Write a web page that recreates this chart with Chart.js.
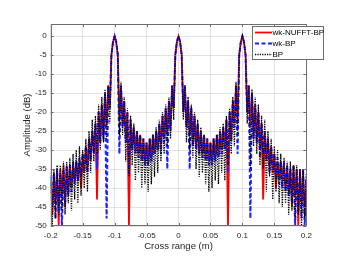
<!DOCTYPE html>
<html>
<head>
<meta charset="utf-8">
<script src="https://cdn.jsdelivr.net/npm/chart.js@4.4.1/dist/chart.umd.min.js"></script>
<style>
  html, body { margin: 0; padding: 0; background: #fff; }
  canvas { display: block; }
</style>
</head>
<body>
<canvas id="chart" width="346" height="259"></canvas>
<script>
// cross range samples (m)
const crossRange = [
  -0.2, -0.1975, -0.195, -0.1925, -0.19, -0.1875, -0.185, -0.1825,
  -0.18, -0.1775, -0.175, -0.1725, -0.17, -0.1675, -0.165, -0.1625,
  -0.16, -0.1575, -0.155, -0.1525, -0.15, -0.1475, -0.145, -0.1425,
  -0.14, -0.1375, -0.135, -0.1325, -0.13, -0.1275, -0.125, -0.1225,
  -0.12, -0.1175, -0.115, -0.1125, -0.11, -0.1075, -0.105, -0.1025,
  -0.1, -0.0975, -0.095, -0.0925, -0.09, -0.0875, -0.085, -0.0825,
  -0.08, -0.0775, -0.075, -0.0725, -0.07, -0.0675, -0.065, -0.0625,
  -0.06, -0.0575, -0.055, -0.0525, -0.05, -0.0475, -0.045, -0.0425,
  -0.04, -0.0375, -0.035, -0.0325, -0.03, -0.0275, -0.025, -0.0225,
  -0.02, -0.0175, -0.015, -0.0125, -0.01, -0.0075, -0.005, -0.0025,
  0,
  0.0025, 0.005, 0.0075, 0.01, 0.0125, 0.015, 0.0175, 0.02,
  0.0225, 0.025, 0.0275, 0.03, 0.0325, 0.035, 0.0375, 0.04,
  0.0425, 0.045, 0.0475, 0.05, 0.0525, 0.055, 0.0575, 0.06,
  0.0625, 0.065, 0.0675, 0.07, 0.0725, 0.075, 0.0775, 0.08,
  0.0825, 0.085, 0.0875, 0.09, 0.0925, 0.095, 0.0975, 0.1,
  0.1025, 0.105, 0.1075, 0.11, 0.1125, 0.115, 0.1175, 0.12,
  0.1225, 0.125, 0.1275, 0.13, 0.1325, 0.135, 0.1375, 0.14,
  0.1425, 0.145, 0.1475, 0.15, 0.1525, 0.155, 0.1575, 0.16,
  0.1625, 0.165, 0.1675, 0.17, 0.1725, 0.175, 0.1775, 0.18,
  0.1825, 0.185, 0.1875, 0.19, 0.1925, 0.195, 0.1975, 0.2
];

// amplitude (dB) per method
const wkNufftBp = [
  -38, -47, -36, -44, -35, -50, -35, -42,
  -34, -45, -35, -41, -34, -40, -34, -38,
  -33, -37, -33, -40, -31, -36, -29, -35,
  -27, -32, -25, -30, -23, -43, -20, -28,
  -18, -26, -15, -24, -13, -19, -5, -1.5,
  0, -1.5, -5, -22, -13, -23, -17, -27,
  -20, -50, -22, -29, -24, -30, -25, -31,
  -26, -32, -27, -33, -28, -33, -27, -32,
  -26, -31, -25, -30, -23, -29, -21, -27,
  -19, -26, -17, -24, -13, -19, -5, -1.5,
  0,
  -1.5, -5, -20, -13, -24, -17, -26, -19,
  -28, -21, -29, -23, -30, -25, -31, -26,
  -32, -27, -33, -28, -33, -27, -32, -26,
  -31, -25, -30, -24, -29, -22, -50, -20,
  -27, -17, -23, -13, -22, -5, -1.5, 0,
  -1.5, -5, -20, -13, -24, -15, -26, -18,
  -28, -20, -30, -23, -43, -25, -32, -27,
  -35, -29, -36, -31, -40, -33, -38, -33,
  -37, -34, -40, -34, -41, -35, -45, -34,
  -42, -35, -50, -35, -44, -36, -47, -38
];

const wkBp = [
  -37, -45, -36, -48, -35, -46, -36, -50,
  -35, -44, -34, -42, -34, -41, -33, -39,
  -33, -38, -32, -37, -31, -35, -29, -36,
  -27, -33, -25, -31, -23, -35, -20, -28,
  -18, -27, -15, -48, -13, -19, -5, -1.5,
  0, -1.5, -5, -31, -13, -24, -17, -28,
  -20, -36, -22, -30, -24, -31, -25, -32,
  -26, -33, -27, -34, -28, -34, -27, -33,
  -26, -31, -25, -30, -23, -31, -21, -28,
  -19, -35, -17, -25, -13, -19, -5, -1.5,
  0,
  -1.5, -5, -20, -13, -24, -17, -35, -19,
  -29, -21, -30, -23, -31, -25, -32, -26,
  -33, -27, -34, -28, -34, -27, -33, -26,
  -32, -25, -31, -24, -30, -22, -36, -20,
  -28, -17, -24, -13, -31, -5, -1.5, 0,
  -1.5, -5, -20, -13, -48, -15, -27, -18,
  -28, -20, -32, -23, -31, -25, -33, -27,
  -36, -29, -35, -31, -38, -32, -39, -33,
  -40, -33, -41, -34, -42, -35, -44, -34,
  -50, -35, -46, -36, -48, -35, -50, -37
];

const bp = [
  -36, -50, -35, -48, -34, -47, -34, -46,
  -33, -47, -33, -44, -32, -46, -31, -43,
  -30, -44, -29, -42, -30, -40, -27, -41,
  -25, -36, -22, -33, -21, -31, -18, -30,
  -16, -28, -14, -27, -13, -23, -5, -1.5,
  0, -1.5, -5, -26, -12, -26, -16, -33,
  -19, -37, -21, -34, -23, -38, -25, -36,
  -26, -40, -27, -39, -28, -41, -27, -39,
  -26, -37, -24, -36, -22, -33, -20, -31,
  -18, -29, -16, -27, -13, -22, -5, -1.5,
  0,
  -1.5, -5, -22, -13, -28, -16, -30, -18,
  -32, -20, -35, -22, -37, -24, -36, -26,
  -39, -27, -41, -28, -40, -27, -38, -26,
  -39, -24, -36, -23, -38, -21, -34, -19,
  -31, -16, -29, -12, -26, -5, -1.5, 0,
  -1.5, -5, -23, -13, -35, -14, -29, -16,
  -31, -18, -34, -21, -35, -22, -41, -25,
  -37, -27, -43, -29, -41, -30, -44, -31,
  -45, -32, -44, -33, -47, -33, -46, -34,
  -48, -34, -47, -35, -50, -35, -48, -36
];

const seriesNames = ['wk-NUFFT-BP', 'wk-BP', 'BP'];
const xTicks = [-0.2, -0.15, -0.1, -0.05, 0, 0.05, 0.1, 0.15, 0.2];
const xTickLabels = ['-0.2', '-0.15', '-0.1', '-0.05', '0', '0.05', '0.1', '0.15', '0.2'];
const yTicks = [-50, -45, -40, -35, -30, -25, -20, -15, -10, -5, 0];

const FONT = "'Liberation Sans', Arial, Helvetica, sans-serif";
const AXIS_COLOR = '#6e6e6e';
const TEXT_COLOR = '#262626';

const toPoints = (vals) => crossRange.map((x, i) => ({ x: x, y: vals[i] }));

const styles = [
  { color: '#ff0000', width: 1.8, dash: [] },
  { color: '#1f1fff', width: 2, dash: [4, 2.5] },
  { color: '#000000', width: 1.3, dash: [1.2, 1.2] },
];

// box around the axes, inward ticks and matlab-style legend
const matlabFrame = {
  id: 'matlabFrame',
  afterDatasetsDraw(chart) {
    const { ctx, chartArea: a, scales } = chart;
    ctx.save();
    ctx.strokeStyle = AXIS_COLOR;
    ctx.lineWidth = 1;
    ctx.strokeRect(Math.round(a.left) + 0.5, Math.round(a.top) + 0.5,
      Math.round(a.right - a.left) - 1, Math.round(a.bottom - a.top) - 1);

    ctx.beginPath();
    xTicks.forEach((v) => {
      const px = Math.round(scales.x.getPixelForValue(v)) + 0.5;
      ctx.moveTo(px, a.bottom); ctx.lineTo(px, a.bottom - 3);
      ctx.moveTo(px, a.top); ctx.lineTo(px, a.top + 3);
    });
    yTicks.forEach((v) => {
      const py = Math.round(scales.y.getPixelForValue(v)) + 0.5;
      ctx.moveTo(a.left, py); ctx.lineTo(a.left + 3, py);
      ctx.moveTo(a.right, py); ctx.lineTo(a.right - 3, py);
    });
    ctx.stroke();

    // legend
    const lx = 252.5, ly = 26.5, lw = 71, lh = 33;
    ctx.fillStyle = '#fff';
    ctx.fillRect(lx, ly, lw, lh);
    ctx.strokeStyle = AXIS_COLOR;
    ctx.strokeRect(lx, ly, lw, lh);
    ctx.font = '8px ' + FONT;
    ctx.textBaseline = 'middle';
    ctx.textAlign = 'left';
    seriesNames.forEach((name, i) => {
      const y = 32.5 + i * 11;
      const s = styles[i];
      ctx.beginPath();
      ctx.strokeStyle = s.color;
      ctx.lineWidth = s.width;
      ctx.setLineDash(s.dash);
      ctx.moveTo(255, y);
      ctx.lineTo(272, y);
      ctx.stroke();
      ctx.setLineDash([]);
      ctx.fillStyle = '#000';
      ctx.fillText(name, 272.5, y + 0.5);
    });
    ctx.restore();
  }
};

const datasets = [wkNufftBp, wkBp, bp].map((vals, i) => ({
  label: seriesNames[i],
  data: toPoints(vals),
  borderColor: styles[i].color,
  borderWidth: styles[i].width,
  borderDash: styles[i].dash,
  pointRadius: 0,
  tension: 0,
  fill: false,
  order: 3 - i,
}));

new Chart(document.getElementById('chart'), {
  type: 'line',
  data: { datasets },
  options: {
    responsive: false,
    animation: false,
    layout: { padding: { left: 0, right: 39.7, top: 24, bottom: 0 } },
    plugins: {
      legend: { display: false },
      tooltip: { enabled: false },
    },
    scales: {
      x: {
        type: 'linear',
        min: -0.2,
        max: 0.2,
        afterFit: (scale) => { scale.height = 33; },
        afterBuildTicks: (scale) => { scale.ticks = xTicks.map((v) => ({ value: v })); },
        grid: { color: 'rgba(38,38,38,0.13)', drawTicks: false },
        border: { display: false },
        ticks: {
          padding: 5,
          maxRotation: 0,
          color: TEXT_COLOR,
          font: { family: FONT, size: 8 },
          callback: (v) => xTickLabels[xTicks.indexOf(v)],
        },
        title: {
          display: true,
          text: 'Cross range (m)',
          color: TEXT_COLOR,
          font: { family: FONT, size: 9.5 },
          padding: { top: 0, bottom: 6.5 },
        },
      },
      y: {
        min: -50,
        max: 3.2,
        afterFit: (scale) => { scale.width = 50.7; },
        afterBuildTicks: (scale) => { scale.ticks = yTicks.map((v) => ({ value: v })); },
        grid: { color: 'rgba(38,38,38,0.13)', drawTicks: false },
        border: { display: false },
        ticks: {
          padding: 4,
          color: TEXT_COLOR,
          font: { family: FONT, size: 8 },
        },
        title: {
          display: true,
          text: 'Amplitude (dB)',
          color: TEXT_COLOR,
          font: { family: FONT, size: 9.5 },
          padding: { top: 22, bottom: 0 },
        },
      },
    },
  },
  plugins: [matlabFrame],
});
</script>
</body>
</html>
